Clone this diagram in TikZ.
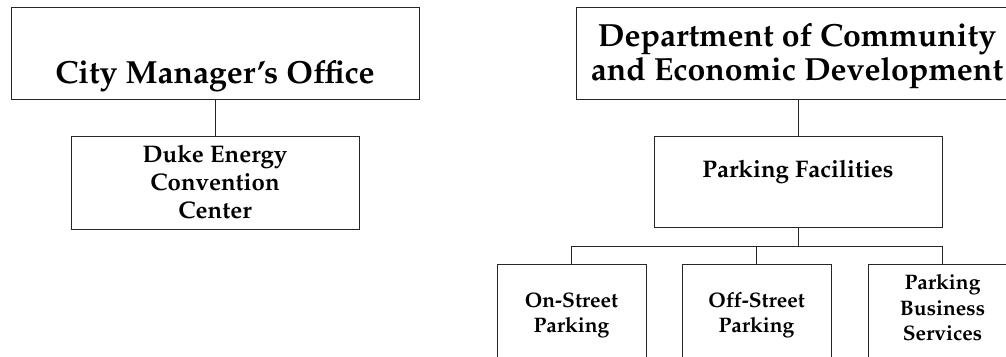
\documentclass[tikz,border=0pt]{standalone}
\IfFileExists{mathpazo.sty}{\usepackage[T1]{fontenc}\usepackage{mathpazo}}{\usepackage{fontspec}\setmainfont{Liberation Serif}}
\usepackage{tikz}
\usetikzlibrary{positioning,calc}

\begin{document}
\begin{tikzpicture}[x=1pt,y=-1pt,
    unit/.style={draw=black!85, line width=1pt, rectangle, inner sep=0pt, anchor=north, align=center},
    bigtext/.style={font=\fontsize{32}{34}\selectfont\bfseries},
    midtext/.style={font=\fontsize{24}{28}\selectfont\bfseries},
    smalltext/.style={font=\fontsize{21}{25.5}\selectfont\bfseries},
    link/.style={draw=black!85, line width=1pt}]
    \useasboundingbox (0,0) rectangle (1006,356);
    \clip (0,0) rectangle (1006,356);

    % City Manager branch
    \node[unit, bigtext, minimum width=408pt, text height=76pt, text depth=16pt] (city) at (215,7) {City Manager's Office};
    \node[unit, midtext, minimum width=288pt, text height=82pt, text depth=11pt] (duke) at (215,136) {Duke Energy\\Convention\\Center};
    \draw[link] (city) -- (duke);

    % Community and Economic Development branch
    \node[unit, bigtext, minimum width=442pt, text height=73pt, text depth=19pt] (dced) at (797,7) {Department of Community\\and Economic Development};
    \node[unit, midtext, minimum width=288pt, text height=41pt, text depth=50pt] (facil) at (798,136) {Parking Facilities};
    \draw[link] (facil.north) -- (facil.north |- dced.south);

    % Parking divisions
    \node[unit, smalltext, minimum width=149pt, text height=68pt, text depth=28pt] (onst) at (571.5,264) {On-Street\\Parking};
    \node[unit, smalltext, minimum width=149pt, text height=68pt, text depth=28pt] (offst) at (756.5,264) {Off-Street\\Parking};
    \node[unit, smalltext, minimum width=149pt, text height=76pt, text depth=20pt] (pbs) at (942.5,264) {Parking\\Business\\Services};
    \coordinate (bus) at (798,246);
    \draw[link] (facil.south) -- (bus);
    \draw[link] (onst.north) |- (bus);
    \draw[link] (offst.north) |- (bus);
    \draw[link] (pbs.north) |- (bus);
\end{tikzpicture}
\end{document}
